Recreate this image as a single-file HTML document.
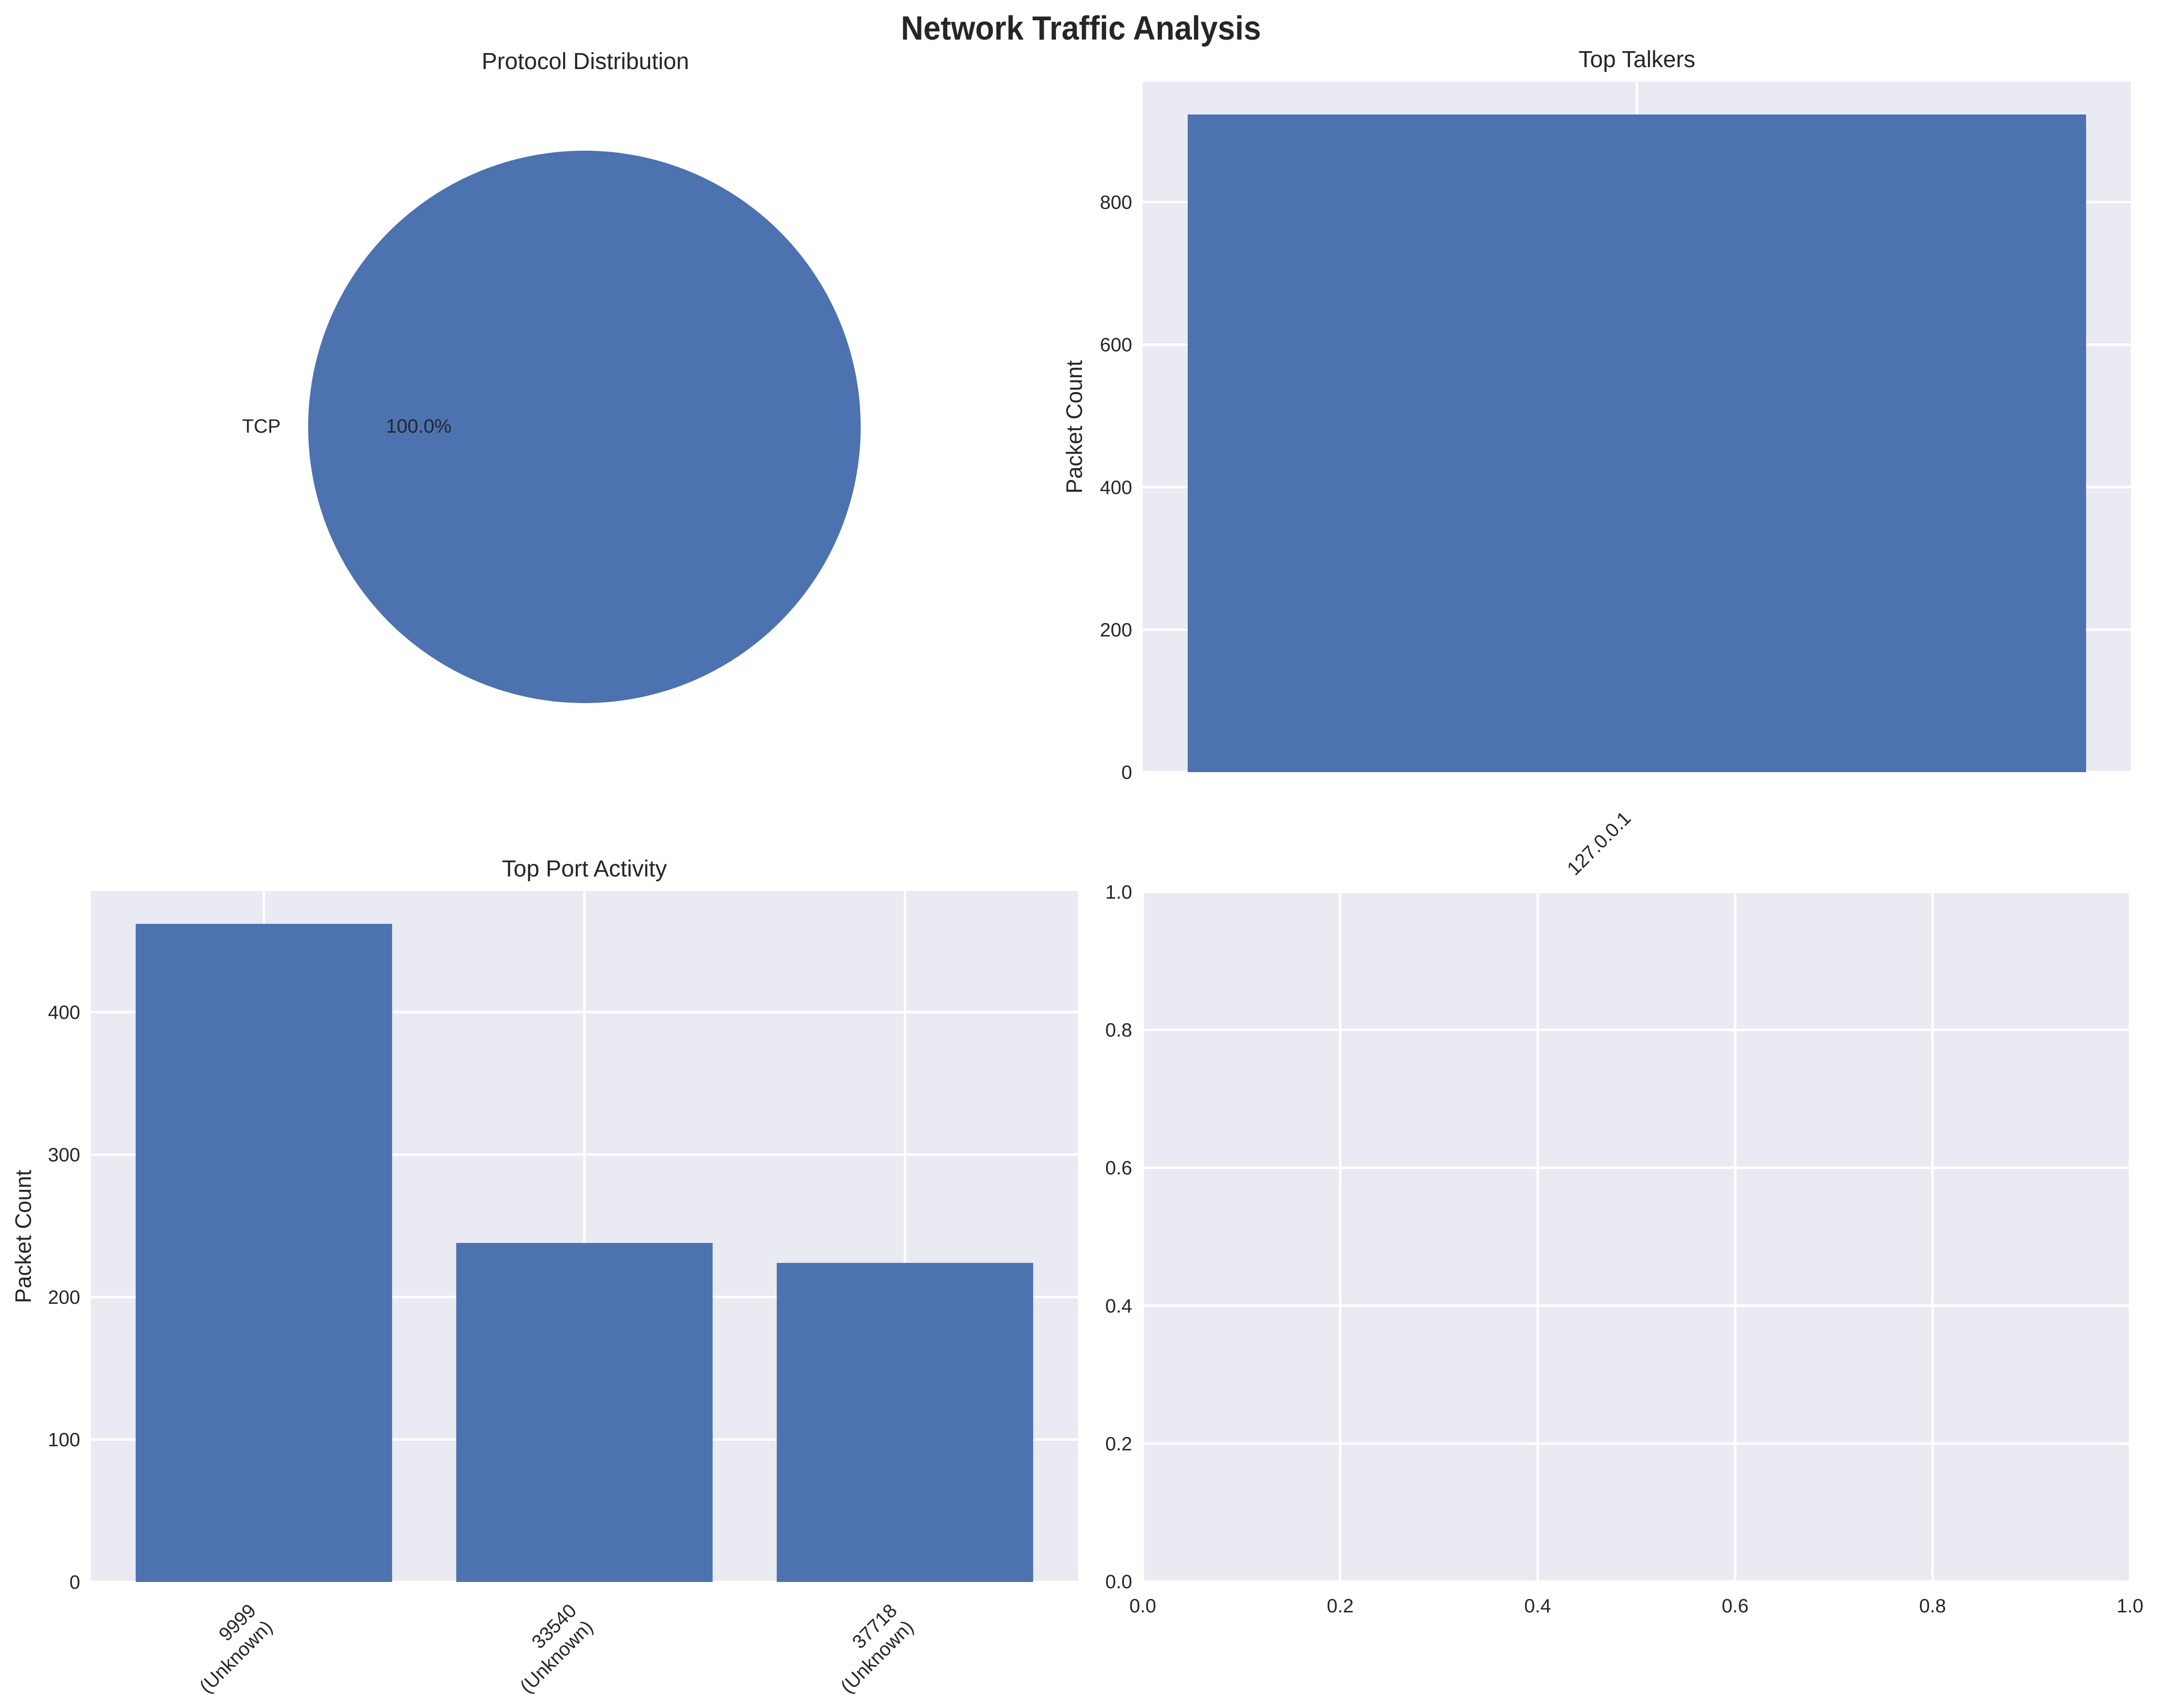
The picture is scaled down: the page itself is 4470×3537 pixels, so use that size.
<!DOCTYPE html>
<html><head><meta charset="utf-8"><style>
html,body{margin:0;padding:0;background:#fff}
svg{display:block}
text{font-family:"Liberation Sans",sans-serif;fill:#262626}
</style></head><body>
<svg id="fig" width="4470" height="3537" viewBox="0 0 4470 3537" xmlns="http://www.w3.org/2000/svg">
<text x="2238" y="82" font-size="70" font-weight="bold" text-anchor="middle" transform="translate(2238 82) scale(0.92 1) translate(-2238 -82)">Network Traffic Analysis</text>
<g id="pie"></g>
<g id="talkers"></g>
<g id="ports"></g>
<g id="empty"></g>
</svg>
<script>
const protoLabels = ["TCP"];
const protoValues = [100];
const talkerLabels = ["127.0.0.1"];
const talkerValues = [923];
const talkerTicks = [0, 200, 400, 600, 800];
const portLabels = ["9999", "33540", "37718"];
const portValues = [462, 238, 224];
const portTicks = [0, 100, 200, 300, 400];
const emptyTicks = ["0.0", "0.2", "0.4", "0.6", "0.8", "1.0"];

const NS = "http://www.w3.org/2000/svg";
function mk(parent, tag, attrs, txt) {
  const e = document.createElementNS(NS, tag);
  for (const k in attrs) e.setAttribute(k, attrs[k]);
  if (txt !== undefined) e.textContent = txt;
  parent.appendChild(e);
  return e;
}
const BG = "#eaeaf2", BAR = "#4c72b0", FS = 40;

// Pie
(function () {
  const g = document.getElementById("pie");
  const cx = 1210, cy = 884, r = 572;
  let t = mk(g, "text", {x: 1212, y: 143, "font-size": 48, "text-anchor": "middle"}, "Protocol Distribution");
  
  
  const total = protoValues.reduce((a, b) => a + b, 0);
  let ang = 0;
  protoValues.forEach((v, i) => {
    const frac = v / total;
    let el;
    if (frac >= 0.9999) {
      el = mk(g, "circle", {cx: cx, cy: cy, r: r, fill: BAR});
    } else {
      const a0 = ang, a1 = ang + frac * 2 * Math.PI;
      const p = (a) => [cx + r * Math.cos(a), cy - r * Math.sin(a)];
      const [x0, y0] = p(a0), [x1, y1] = p(a1);
      el = mk(g, "path", {d: `M${cx},${cy} L${x0},${y0} A${r},${r} 0 ${frac > 0.5 ? 1 : 0} 0 ${x1},${y1} Z`, fill: BAR});
    }
    
    
    let l = mk(g, "text", {x: 581, y: 896, "font-size": FS, "text-anchor": "end"}, protoLabels[i]);
    
    
    let pc = mk(g, "text", {x: 867, y: 896, "font-size": FS, "text-anchor": "middle"}, (frac * 100).toFixed(1) + "%");
    
    
    ang += frac * 2 * Math.PI;
  });
})();

function barChart(gid, L, R, T, B, labels, values, ticks, title, ylabX, tickFn, namePrefix) {
  const g = document.getElementById(gid);
  const n = labels.length;
  const ymax = Math.max(...values) * 1.05;
  const span = n - 1 + 0.8;
  const xmin = -0.4 - 0.05 * span, xmax = n - 1 + 0.4 + 0.05 * span;
  const xs = v => L + (v - xmin) / (xmax - xmin) * (R - L);
  const ys = v => B - v / ymax * (B - T);
  let bg = mk(g, "rect", {x: L, y: T, width: R - L, height: B - T, fill: BG});
  
  
  ticks.forEach(tv => {
    const y = ys(tv);
    let gl = mk(g, "line", {x1: L, x2: R, y1: y, y2: y, stroke: "#fff", "stroke-width": 5});
    
    
    let tl = mk(g, "text", {x: L - 22, y: y + 14, "font-size": FS, "text-anchor": "end"}, tv);
    
    
  });
  labels.forEach((lab, i) => {
    const x = xs(i);
    let gl = mk(g, "line", {x1: x, x2: x, y1: T, y2: B, stroke: "#fff", "stroke-width": 5});
    
    
  });
  labels.forEach((lab, i) => {
    const x0 = xs(i - 0.4), x1 = xs(i + 0.4);
    let b = mk(g, "rect", {x: x0, y: ys(values[i]), width: x1 - x0, height: B - ys(values[i]), fill: BAR});
    
    
    tickFn(g, xs(i), B, lab);
  });
  let tt = mk(g, "text", {x: (L + R) / 2, y: T - 30, "font-size": 48, "text-anchor": "middle"}, title);
  
  
  const cy = (T + B) / 2;
  let yl = mk(g, "text", {x: ylabX, y: cy, "font-size": 46, "text-anchor": "middle", transform: `rotate(-90 ${ylabX} ${cy})`}, "Packet Count");
  
  
}

barChart("talkers", 2366, 4412, 169, 1599, talkerLabels, talkerValues, talkerTicks, "Top Talkers", 2240,
  function (g, x, B, lab) {
    let t = mk(g, "text", {x: 0, y: 0, "font-size": FS, "text-anchor": "end", transform: `translate(${x - 10} ${B + 98}) rotate(-45)`}, lab);
    
    
  }, "talkers");

barChart("ports", 188, 2232, 1845, 3276, portLabels, portValues, portTicks, "Top Port Activity", 64,
  function (g, x, B, lab) {
    const grp = mk(g, "g", {transform: `translate(${x - 14} ${B + 62}) rotate(-45)`});
    let t1 = mk(grp, "text", {x: 0, y: 0, "font-size": FS, "text-anchor": "end"}, lab);
    
    
    let t2 = mk(grp, "text", {x: 0, y: 48, "font-size": FS, "text-anchor": "end"}, "(Unknown)");
    
    
  }, "ports");

// Empty axes
(function () {
  const g = document.getElementById("empty");
  const L = 2366, R = 4410, T = 1847, B = 3275;
  let bg = mk(g, "rect", {x: L, y: T, width: R - L, height: B - T, fill: BG});
  
  
  emptyTicks.forEach(tv => {
    const v = parseFloat(tv);
    const y = B - v * (B - T), x = L + v * (R - L);
    let h = mk(g, "line", {x1: L, x2: R, y1: y, y2: y, stroke: "#fff", "stroke-width": 5});
    
    
    let vl = mk(g, "line", {x1: x, x2: x, y1: T, y2: B, stroke: "#fff", "stroke-width": 5});
    
    
    let yt = mk(g, "text", {x: L - 22, y: y + 14, "font-size": FS, "text-anchor": "end"}, tv);
    
    
    let xt = mk(g, "text", {x: x, y: B + 64, "font-size": FS, "text-anchor": "middle"}, tv);
    
    
  });
})();
</script>
</body></html>
